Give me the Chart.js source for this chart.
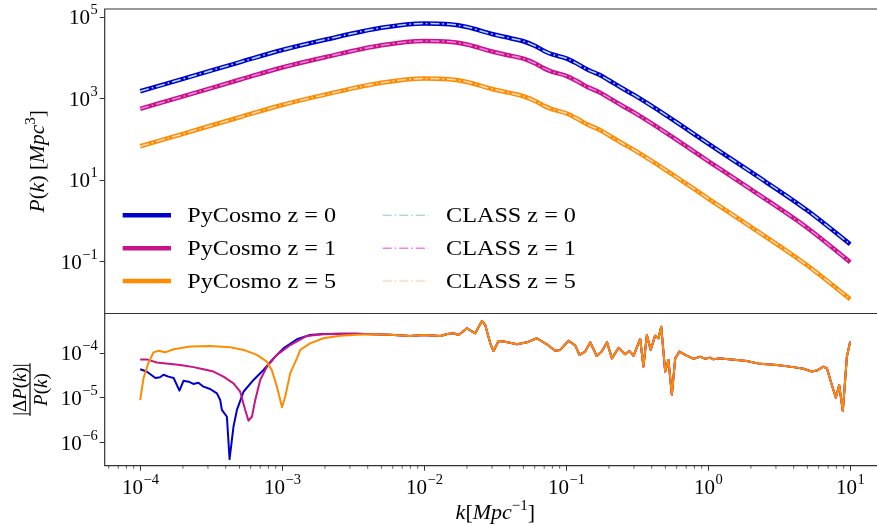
<!DOCTYPE html>
<html>
<head>
<meta charset="utf-8">
<script src="https://cdn.jsdelivr.net/npm/chart.js@4.4.1/dist/chart.umd.min.js"></script>
<style>
  html, body { margin: 0; padding: 0; background: #fff; overflow: hidden; }
  #wrap { position: relative; width: 877px; height: 525px; }
  canvas { position: absolute; left: 0; top: 0; }
</style>
</head>
<body>
<div id="wrap">
  <canvas id="pk" width="877" height="525"></canvas>
  <canvas id="diff" width="877" height="525"></canvas>
</div>
<script>
// ---- power spectrum, top panel (k in 1/Mpc, P in Mpc^3) ----
const kGrid = [1e-4, 2e-4, 5e-4, 1e-3, 2e-3, 5e-3, 1e-2, 1.5e-2, 2e-2, 3e-2, 4e-2, 5e-2, 6e-2, 7e-2, 8e-2,
  0.1, 0.12, 0.14, 0.17, 0.2, 0.25, 0.3, 0.5, 1, 2, 5, 10];
const pkZ0 = [1535, 3090, 7890, 15800, 28200, 55300, 70500, 67400, 57800, 39000, 31100, 25900, 20100, 15000, 12300,
  9890, 7210, 5310, 3940, 2860, 1790, 1250, 406, 80.2, 16.1, 1.83, 0.273];
const pkZ1 = [571, 1151, 2940, 5890, 10500, 20600, 26200, 25100, 21500, 14500, 11600, 9660, 7500, 5590, 4590,
  3680, 2690, 1980, 1470, 1060, 667, 465, 151, 29.9, 6.01, 0.681, 0.0989];
const pkZ5 = [68.9, 139, 354, 708, 1270, 2480, 3160, 3020, 2590, 1750, 1400, 1160, 903, 673, 553,
  444, 324, 238, 177, 128, 80.2, 56.0, 18.2, 3.60, 0.724, 0.082, 0.01225];
// CLASS curves sit on the PyCosmo ones at this scale
const pkClassZ0 = pkZ0;
const pkClassZ1 = pkZ1;
const pkClassZ5 = pkZ5;

// ---- relative difference, bottom panel ----
const kDiffZ0 = [1.0e-4, 1.11e-4, 1.28e-4, 1.38e-4, 1.46e-4, 1.58e-4, 1.72e-4, 1.89e-4, 2.02e-4, 2.19e-4, 2.37e-4,
  2.57e-4, 2.79e-4, 3.11e-4, 3.47e-4, 3.66e-4, 3.76e-4, 4.08e-4, 4.26e-4, 4.54e-4, 4.80e-4, 5.34e-4, 6.28e-4,
  7.39e-4, 8.68e-4, 1.02e-3, 1.27e-3, 1.57e-3, 1.94e-3, 2.56e-3, 3.36e-3, 4.39e-3];
const diffZ0 = [4.4e-5, 3.9e-5, 2.8e-5, 2.9e-5, 3.3e-5, 3.0e-5, 2.8e-5, 1.46e-5, 2.44e-5, 2.32e-5, 2.06e-5,
  2.2e-5, 1.79e-5, 1.59e-5, 1.27e-5, 9.0e-6, 5.4e-6, 3.8e-6, 4.3e-7, 2.3e-6, 5.4e-6, 1.38e-5, 2.53e-5,
  4.23e-5, 7.7e-5, 1.29e-4, 2.06e-4, 2.56e-4, 2.70e-4, 2.75e-4, 2.72e-4, 2.68e-4];
const kDiffZ1 = [1.0e-4, 1.11e-4, 1.31e-4, 1.46e-4, 1.72e-4, 2.02e-4, 2.37e-4, 2.79e-4, 3.28e-4, 3.86e-4, 4.54e-4,
  5.06e-4, 5.49e-4, 5.79e-4, 6.12e-4, 6.46e-4, 7.0e-4, 7.8e-4, 9.18e-4, 1.14e-3, 1.49e-3, 1.94e-3, 2.56e-3,
  3.36e-3, 4.39e-3];
const diffZ1 = [7.3e-5, 7.3e-5, 6.2e-5, 6.0e-5, 5.7e-5, 5.3e-5, 4.9e-5, 4.4e-5, 3.9e-5, 3.0e-5, 2.13e-5,
  1.38e-5, 5.4e-6, 3.1e-6, 3.8e-6, 9.0e-6, 2.53e-5, 5.0e-5, 9.2e-5, 1.53e-4, 2.44e-4, 2.68e-4, 2.74e-4,
  2.72e-4, 2.68e-4];
const kDiffZ5 = [1.0e-4, 1.055e-4, 1.14e-4, 1.24e-4, 1.35e-4, 1.5e-4, 1.72e-4, 2.25e-4, 3.11e-4, 4.31e-4, 5.34e-4,
  6.64e-4, 7.8e-4, 8.45e-4, 9.18e-4, 9.97e-4, 1.05e-3, 1.14e-3, 1.27e-3, 1.34e-3, 1.57e-3, 1.95e-3, 2.56e-3,
  3.36e-3, 4.39e-3];
const diffZ5 = [9.0e-6, 2.76e-5, 6.0e-5, 1.05e-4, 1.14e-4, 1.05e-4, 1.23e-4, 1.41e-4, 1.46e-4, 1.36e-4, 1.19e-4,
  9.2e-5, 6.5e-5, 4.2e-5, 1.79e-5, 6.2e-6, 1.07e-5, 3.6e-5, 7.7e-5, 1.19e-4, 1.67e-4, 2.17e-4, 2.48e-4,
  2.61e-4, 2.66e-4];
// above k ~ 5e-3 the three redshifts lie on one line
const kDiffTail = [5.77e-3, 7.97e-3, 9.88e-3, 1.30e-2, 1.45e-2, 1.61e-2, 1.75e-2, 2.0e-2, 2.29e-2, 2.55e-2,
  2.69e-2, 2.92e-2, 3.08e-2, 3.34e-2, 3.72e-2, 4.50e-2, 5.29e-2, 6.22e-2, 7.31e-2, 8.37e-2, 9.08e-2, 0.104,
  0.116, 0.124, 0.136, 0.148, 0.164, 0.178, 0.194, 0.210, 0.234, 0.260, 0.279, 0.298, 0.332, 0.350, 0.370,
  0.394, 0.423, 0.447, 0.467, 0.498, 0.525, 0.555, 0.586, 0.628, 0.689, 0.789, 0.879, 0.953, 1.03, 1.09, 1.18,
  1.59, 1.87, 2.32, 3.05, 3.99, 4.69, 5.37, 5.82, 6.49, 6.86, 7.43, 7.93, 8.37, 8.88, 9.48, 10];
const diffTail = [2.61e-4, 2.44e-4, 2.56e-4, 2.44e-4, 2.70e-4, 2.80e-4, 2.56e-4, 3.62e-4, 2.80e-4, 5.28e-4,
  4.30e-4, 1.67e-4, 1.12e-4, 1.88e-4, 1.82e-4, 1.59e-4, 1.76e-4, 2.17e-4, 1.59e-4, 1.14e-4, 1.19e-4, 1.91e-4,
  1.48e-4, 9.2e-5, 1.09e-4, 1.76e-4, 8.7e-5, 1.09e-4, 1.76e-4, 7.7e-5, 1.33e-4, 9.5e-5, 1.12e-4, 8.8e-5, 2.09e-4,
  5.0e-5, 2.56e-4, 1.19e-4, 2.48e-4, 2.17e-4, 3.94e-4, 3.9e-5, 7.1e-5, 1.17e-5, 7.7e-5, 1.09e-4, 9.2e-5, 7.5e-5,
  8.4e-5, 7.5e-5, 8.0e-5, 7.3e-5, 7.7e-5, 7.1e-5, 6.7e-5, 5.8e-5, 5.5e-5, 4.9e-5, 4.5e-5, 3.9e-5, 4.1e-5, 5.0e-5,
  4.6e-5, 1.95e-5, 1.02e-5, 1.95e-5, 5.1e-6, 8.4e-5, 1.82e-4];

const xTicks = [1e-4, 1e-3, 1e-2, 1e-1, 1, 10];
const pkTicks = [1e-1, 1e1, 1e3, 1e5];
const diffTicks = [1e-6, 1e-5, 1e-4];

const serif = '"Liberation Serif", "DejaVu Serif", serif';
const AXIS_LEFT = 104.7;
const X_MIN = Math.pow(10, -4.25);
const X_MAX = Math.pow(10, 1.189);

function pairs(ks, vs) {
  return ks.map((k, i) => ({ x: k, y: vs[i] }));
}

function runFont(style, size) {
  if (style === 'i') return 'italic ' + size + 'px ' + serif;
  if (style === 's') return Math.round(size * 0.7) + 'px ' + serif;
  return size + 'px ' + serif;
}
// draw mixed roman/italic/superscript text centred on (cx, cy)
function drawRuns(ctx, runs, cx, cy, size, angle) {
  ctx.save();
  ctx.translate(cx, cy);
  ctx.rotate(angle || 0);
  ctx.textBaseline = 'alphabetic';
  ctx.textAlign = 'left';
  ctx.fillStyle = '#000';
  let total = 0;
  const widths = runs.map(([t, s]) => {
    ctx.font = runFont(s, size);
    const w = ctx.measureText(t).width;
    total += w;
    return w;
  });
  let x = -total / 2;
  const base = size * 0.33;
  runs.forEach(([t, s], i) => {
    ctx.font = runFont(s, size);
    ctx.fillText(t, x, s === 's' ? base - size * 0.42 : base);
    x += widths[i];
  });
  ctx.restore();
  return total;
}

// "10" with a raised exponent, e.g. 10^-4
function drawPow(ctx, v, x, y, align) {
  const e = Math.round(Math.log10(v));
  const exp = e < 0 ? '\u2212' + (-e) : String(e);
  ctx.save();
  ctx.fillStyle = '#000';
  ctx.textBaseline = 'alphabetic';
  ctx.textAlign = 'left';
  ctx.font = '21px ' + serif;
  const w1 = ctx.measureText('10').width;
  ctx.font = '14.5px ' + serif;
  const w2 = ctx.measureText(exp).width;
  const x0 = align === 'right' ? x - w1 - w2 : x - (w1 + w2) / 2;
  ctx.font = '21px ' + serif;
  ctx.fillText('10', x0, y + 7);
  ctx.font = '14.5px ' + serif;
  ctx.fillText(exp, x0 + w1 + 0.5, y - 3);
  ctx.restore();
}

const framePlugin = {
  id: 'frame',
  afterDraw(chart) {
    const { ctx, chartArea: a } = chart;
    ctx.save();
    ctx.strokeStyle = '#333';
    ctx.lineWidth = 1.2;
    ctx.beginPath();
    ctx.moveTo(a.right + 5, a.top);
    ctx.lineTo(a.left, a.top);
    ctx.lineTo(a.left, a.bottom);
    ctx.lineTo(a.right + 5, a.bottom);
    ctx.stroke();
    ctx.restore();
    // tick labels of the log axes
    Object.values(chart.scales).forEach(s => {
      if (!s.options.display) return;
      s.ticks.forEach(t => {
        const p = s.getPixelForValue(t.value);
        if (s.axis === 'y') drawPow(ctx, t.value, s.right - 7.5, p, 'right');
        else drawPow(ctx, t.value, p, a.bottom + 21, 'center');
      });
    });
  }
};

const legendPlugin = {
  id: 'cornerLegend',
  afterDraw(chart) {
    const ctx = chart.ctx;
    const cols = [{ line: 122.7, w: 48.3, text: 187.3 }, { line: 382.7, w: 45.6, text: 446 }];
    const rows = [215.3, 248.3, 281];
    ctx.save();
    chart.data.datasets.forEach((ds, i) => {
      const c = cols[Math.floor(i / 3)];
      const y = rows[i % 3];
      ctx.strokeStyle = ds.borderColor;
      ctx.lineWidth = ds.borderWidth;
      ctx.setLineDash(ds.borderDash || []);
      ctx.lineCap = 'butt';
      ctx.beginPath();
      ctx.moveTo(c.line, y);
      ctx.lineTo(c.line + c.w, y);
      ctx.stroke();
      ctx.setLineDash([]);
      ctx.save();
      ctx.translate(c.text, y + 1);
      ctx.scale(1.1, 1);
      ctx.fillStyle = '#000';
      ctx.font = '22px ' + serif;
      ctx.textBaseline = 'middle';
      ctx.fillText(ds.label, 0, 0);
      ctx.restore();
    });
    ctx.restore();
    // y label of the top panel
    const a = chart.chartArea;
    drawRuns(ctx, [['P', 'i'], ['(', 'r'], ['k', 'i'], [') [', 'r'], ['Mpc', 'i'], ['3', 's'], [']', 'r']],
      37, (a.top + a.bottom) / 2, 21.5, -Math.PI / 2);
  }
};

const bottomPlugin = {
  id: 'bottomExtras',
  afterDraw(chart) {
    const ctx = chart.ctx;
    const a = chart.chartArea;
    const xs = chart.scales.x;
    // minor ticks on k axis
    ctx.save();
    ctx.strokeStyle = '#333';
    ctx.lineWidth = 0.8;
    for (let d = -5; d <= 1; d++) {
      for (let m = 2; m <= 9; m++) {
        const v = m * Math.pow(10, d);
        if (v < xs.min || v > xs.max) continue;
        const px = xs.getPixelForValue(v);
        ctx.beginPath();
        ctx.moveTo(px, a.bottom);
        ctx.lineTo(px, a.bottom + 3);
        ctx.stroke();
      }
    }
    ctx.restore();
    // x label
    drawRuns(ctx, [['k', 'i'], ['[', 'r'], ['Mpc', 'i'], ['\u22121', 's'], [']', 'r']],
      (a.left + 877 + 9) / 2, 512, 22, 0);
    // y label: |dP(k)| / P(k)
    ctx.save();
    ctx.translate(30, (a.top + a.bottom) / 2);
    ctx.rotate(-Math.PI / 2);
    const wNum = drawRuns(ctx, [['|\u0394', 'r'], ['P', 'i'], ['(', 'r'], ['k', 'i'], [')|', 'r']], 0, -10.5, 19, 0);
    drawRuns(ctx, [['P', 'i'], ['(', 'r'], ['k', 'i'], [')', 'r']], 0, 11, 19, 0);
    ctx.fillStyle = '#000';
    ctx.fillRect(-wNum / 2, -0.6, wNum, 1.2);
    ctx.restore();
  }
};

function fixWidth(scale) {
  scale.width = AXIS_LEFT;
  scale.paddingTop = 0;
  scale.paddingBottom = 0;
}
const tickGrid = { drawOnChartArea: false, drawTicks: true, tickLength: 5, color: '#333', lineWidth: 1 };

new Chart(document.getElementById('pk'), {
  type: 'line',
  data: {
    datasets: [
      { label: 'PyCosmo z = 0', data: pairs(kGrid, pkZ0), borderColor: '#0000CD', borderWidth: 4.5, order: 1 },
      { label: 'PyCosmo z = 1', data: pairs(kGrid, pkZ1), borderColor: '#C71585', borderWidth: 4.5, order: 1 },
      { label: 'PyCosmo z = 5', data: pairs(kGrid, pkZ5), borderColor: '#FF8C00', borderWidth: 4.5, order: 1 },
      { label: 'CLASS z = 0', data: pairs(kGrid, pkClassZ0), borderColor: '#ADD8E6', borderWidth: 1.6, borderDash: [9, 3, 1.6, 3], order: 0 },
      { label: 'CLASS z = 1', data: pairs(kGrid, pkClassZ1), borderColor: '#EE82EE', borderWidth: 1.6, borderDash: [9, 3, 1.6, 3], order: 0 },
      { label: 'CLASS z = 5', data: pairs(kGrid, pkClassZ5), borderColor: '#FFDAB9', borderWidth: 1.6, borderDash: [9, 3, 1.6, 3], order: 0 }
    ]
  },
  options: {
    responsive: false,
    animation: false,
    devicePixelRatio: 1,
    layout: { padding: { top: 9, right: 0, bottom: 525 - 313.5, left: 0 } },
    elements: { point: { radius: 0 }, line: { cubicInterpolationMode: 'monotone', fill: false } },
    plugins: { legend: { display: false }, tooltip: { enabled: false } },
    scales: {
      x: { type: 'logarithmic', display: false, min: X_MIN, max: X_MAX, bounds: 'data' },
      y: {
        type: 'logarithmic',
        min: Math.pow(10, -2.264),
        max: Math.pow(10, 5.204),
        bounds: 'data',
        afterBuildTicks: s => { s.ticks = pkTicks.map(v => ({ value: v })); },
        afterFit: fixWidth,
        border: { display: false },
        grid: tickGrid,
        ticks: { display: false }
      }
    }
  },
  plugins: [framePlugin, legendPlugin]
});

new Chart(document.getElementById('diff'), {
  type: 'line',
  data: {
    datasets: [
      { label: 'z = 0', data: pairs(kDiffZ0.concat(kDiffTail), diffZ0.concat(diffTail)), borderColor: '#0000CD', borderWidth: 2, order: 3 },
      { label: 'z = 1', data: pairs(kDiffZ1.concat(kDiffTail), diffZ1.concat(diffTail)), borderColor: '#C71585', borderWidth: 2, order: 2 },
      { label: 'z = 5', data: pairs(kDiffZ5.concat(kDiffTail), diffZ5.concat(diffTail)), borderColor: '#FF8C00', borderWidth: 2, order: 1 }
    ]
  },
  options: {
    responsive: false,
    animation: false,
    devicePixelRatio: 1,
    layout: { padding: { top: 313.5, right: 0, bottom: 0, left: 0 } },
    elements: { point: { radius: 0 }, line: { tension: 0, fill: false, borderJoinStyle: 'round' } },
    plugins: { legend: { display: false }, tooltip: { enabled: false } },
    scales: {
      x: {
        type: 'logarithmic',
        min: X_MIN,
        max: X_MAX,
        bounds: 'data',
        afterBuildTicks: s => { s.ticks = xTicks.map(v => ({ value: v })); },
        afterFit: s => { s.height = 525 - 465.7; s.paddingLeft = 0; s.paddingRight = 0; },
        border: { display: false },
        grid: tickGrid,
        ticks: { display: false }
      },
      y: {
        type: 'logarithmic',
        min: Math.pow(10, -6.515),
        max: Math.pow(10, -3.11),
        bounds: 'data',
        afterBuildTicks: s => { s.ticks = diffTicks.map(v => ({ value: v })); },
        afterFit: fixWidth,
        border: { display: false },
        grid: tickGrid,
        ticks: { display: false }
      }
    }
  },
  plugins: [framePlugin, bottomPlugin]
});
</script>
</body>
</html>
